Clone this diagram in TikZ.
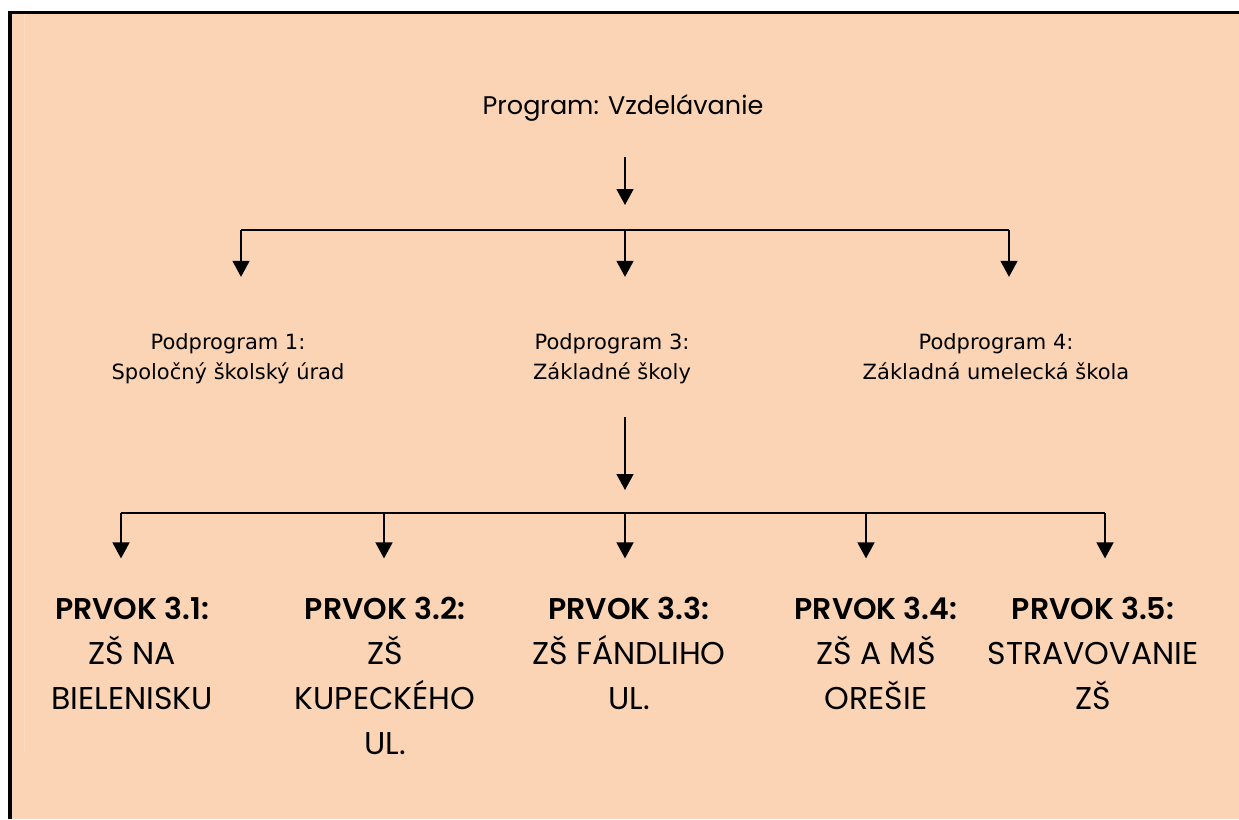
\documentclass[tikz,border=0pt]{standalone}
\usepackage{fontspec}
\newfontfamily\gothic{Poppins}
\newfontfamily\gothicsb{Poppins SemiBold}
\newfontfamily\verd{DejaVu Sans}
\usetikzlibrary{arrows.meta}
\definecolor{peach}{RGB}{250,212,180}
\newcommand\head[1]{{\gothicsb\fontsize{30}{45}\selectfont #1}}

\begin{document}
\begin{tikzpicture}[x=1pt, y=-1pt,
    every node/.style={inner sep=0pt, anchor=base, align=center},
    prog/.style={font=\gothic\fontsize{25.5}{30}\selectfont},
    sub/.style={font=\verd\fontsize{21}{30}\selectfont},
    item/.style={font=\gothic\fontsize{31.5}{45}\selectfont},
    arr/.style={line width=1.5pt, -{Triangle[width=17pt,length=16pt]}},
    bus/.style={line width=1.8pt}]
  \useasboundingbox (0,0) rectangle (1239,819);
  \fill[peach] (8,11) rectangle (1239,819);
  \draw[peach!80!white, line width=1pt] (24,14) -- (24,752);
  \draw[line width=3.5pt] (10,819) -- (10,12.5) -- (1239,12.5);

  \node[prog] (prog) at (623,114) {Program: Vzdelávanie};
  \node[sub] (pp1) at (228,379) {Podprogram 1:\\Spoločný školský úrad};
  \node[sub] (pp3) at (612,379) {Podprogram 3:\\Základné školy};
  \node[sub] (pp4) at (996,379) {Podprogram 4:\\Základná umelecká škola};
  \node[item] (pv1) at (132,709) {\head{PRVOK 3.1:}\\ZŠ NA\\BIELENISKU};
  \node[item] (pv2) at (385,754) {\head{PRVOK 3.2:}\\ZŠ\\KUPECKÉHO\\UL.};
  \node[item] (pv3) at (629,709) {\head{PRVOK 3.3:}\\ZŠ FÁNDLIHO\\UL.};
  \node[item] (pv4) at (876,709) {\head{PRVOK 3.4:}\\ZŠ A MŠ\\OREŠIE};
  \node[item] (pv5) at (1093,709) {\head{PRVOK 3.5:}\\STRAVOVANIE\\ZŠ};

  \coordinate (fork1) at (625,230);
  \coordinate (fork2) at (625,513);
  \coordinate (c1) at (241,230);
  \coordinate (c4) at (1009,230);
  \coordinate (d1) at (121,513);
  \coordinate (d2) at (384,513);
  \coordinate (d4) at (866,513);
  \coordinate (d5) at (1105,513);

  \draw[arr, shorten <=36pt, shorten >=25pt] (prog.south -| fork1) -- (fork1);
  \draw[bus] (c1) -- (c4);
  \draw[arr, shorten >=56pt] (c1) -- (c1 |- pp1.north);
  \draw[arr, shorten >=56pt] (fork1) -- (fork1 |- pp3.north);
  \draw[arr, shorten >=56pt] (c4) -- (c4 |- pp4.north);

  \draw[arr, shorten <=33pt, shorten >=23pt] (pp3.south -| fork2) -- (fork2);
  \draw[bus] (d1) -- (d5);
  \draw[arr, shorten >=38pt] (d1) -- (d1 |- pv1.north);
  \draw[arr, shorten >=38pt] (d2) -- (d2 |- pv2.north);
  \draw[arr, shorten >=38pt] (fork2) -- (fork2 |- pv3.north);
  \draw[arr, shorten >=38pt] (d4) -- (d4 |- pv4.north);
  \draw[arr, shorten >=38pt] (d5) -- (d5 |- pv5.north);
\end{tikzpicture}
\end{document}
